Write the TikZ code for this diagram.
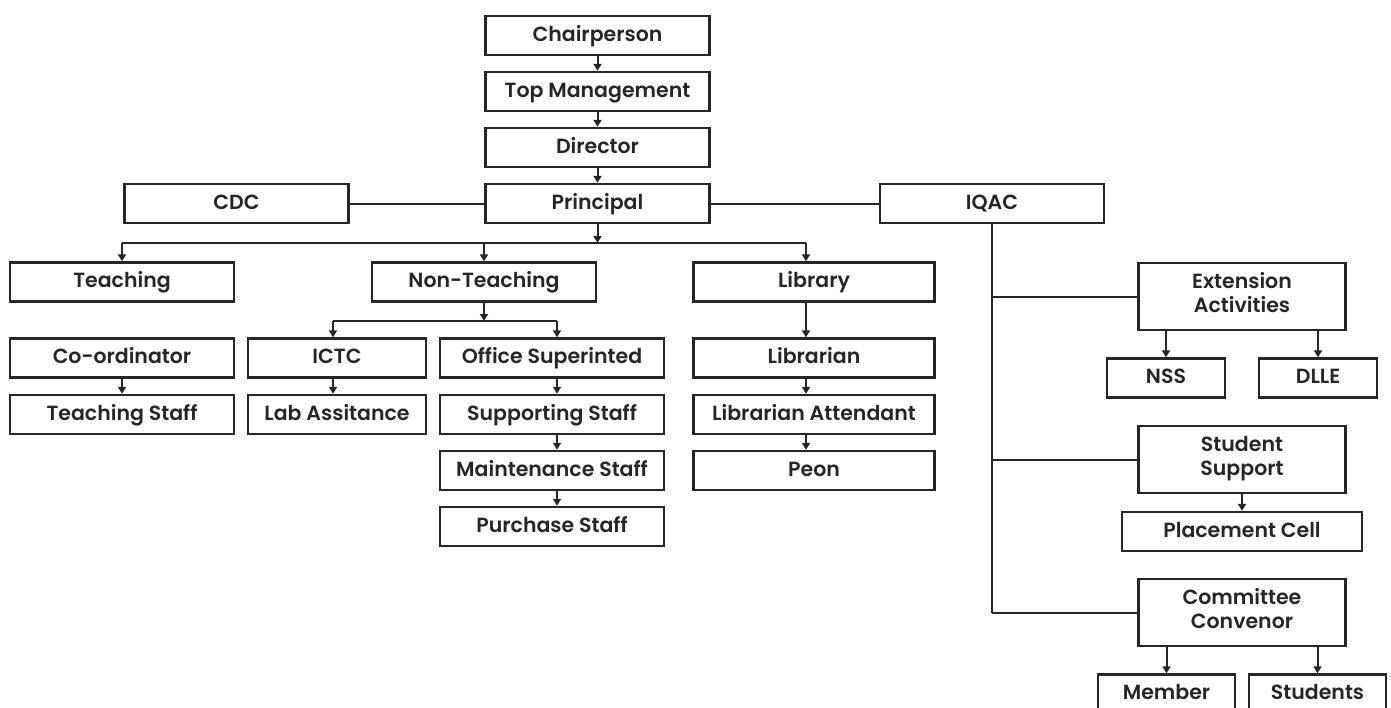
\documentclass[tikz,border=0pt]{standalone}
\usepackage{fontspec}
\setmainfont{Poppins}[UprightFont={* SemiBold}]
\usetikzlibrary{calc, positioning}
\usetikzlibrary{arrows.meta}

\begin{document}
\begin{tikzpicture}[x=1pt, y=-1pt, line join=miter]
\tikzset{
  box/.style={draw=black!85, line width=2.4pt, minimum width=224pt, minimum height=39pt,
    inner sep=0pt, align=center, font=\fontsize{20.5}{24}\selectfont, text=black!85,
    text height=15pt, text depth=4pt},
  tallbox/.style={box, text height=, text depth=8pt, minimum width=207pt, minimum height=67pt},
  link/.style={draw=black!85, line width=2pt},
  arr/.style={link, -{Triangle[length=7pt, width=8pt]}}
}
\useasboundingbox (0,0) rectangle (1391,707);

% Top chain
\node[box] (chair) at (597.5,35.5) {Chairperson};
\node[box] (topm) at (597.5,91.5) {Top Management};
\node[box] (dir) at (597.5,147.5) {Director};
\node[box] (prin) at (597.5,203.5) {Principal};
\node[box] (cdc) at (236.5,203.5) {CDC};
\node[box] (iqac) at (992,203.5) {IQAC};

% Departments
\node[box] (teach) at (122,282) {Teaching};
\node[box] (nonteach) at (484,282) {Non-Teaching};
\node[box, minimum width=241pt] (lib) at (814,282) {Library};

% Teaching column
\node[box] (coord) at (122,358) {Co-ordinator};
\node[box] (tstaff) at (122,414.5) {Teaching Staff};

% Non-teaching columns
\node[box, minimum width=178pt] (ictc) at (337,358) {ICTC};
\node[box, minimum width=178pt] (labas) at (337,414.5) {Lab Assitance};
\node[box] (office) at (552,358) {Office Superinted};
\node[box] (support) at (552,414.5) {Supporting Staff};
\node[box] (maint) at (552,470.5) {Maintenance Staff};
\node[box] (purch) at (552,526.5) {Purchase Staff};

% Library column
\node[box, minimum width=241pt] (libn) at (814,358) {Librarian};
\node[box, minimum width=241pt] (libatt) at (814,414.5) {Librarian Attendant};
\node[box, minimum width=241pt] (peon) at (814,470.5) {Peon};

% IQAC side
\node[tallbox] (ext) at (1242,296.5) {Extension\\Activities};
\node[box, minimum width=118pt] (nss) at (1166,378) {NSS};
\node[box, minimum width=118pt] (dlle) at (1318,378) {DLLE};
\node[tallbox] (ssup) at (1242,459.5) {Student\\Support};
\node[box, minimum width=240pt] (place) at (1242,531.5) {Placement Cell};
\node[tallbox] (comm) at (1242,612.5) {Committee\\Convenor};
\node[box, minimum width=137pt] (member) at (1166.5,694) {Member};
\node[box, minimum width=137pt] (students) at (1317.5,694) {Students};

% Branch points
\coordinate (br) at (597.5,243);
\coordinate (ntbr) at (484,321);

% Top chain arrows
\draw[arr] (chair) -- (topm);
\draw[arr] (topm) -- (dir);
\draw[arr] (dir) -- (prin);
\draw[link] (cdc) -- (prin);
\draw[link] (prin) -- (iqac);

% Principal to departments
\draw[arr] (prin.south) -- (br);
\draw[link] (teach.north |- br) -- ([xshift=-8pt]lib.north |- br);
\draw[arr] (teach.north |- br) -- (teach.north);
\draw[arr] (nonteach.north |- br) -- (nonteach.north);
\draw[arr] ([xshift=-8pt]lib.north |- br) -- ([xshift=-8pt]lib.north);

% Teaching
\draw[arr] (coord) -- (tstaff);

% Non-teaching
\draw[arr] (nonteach.south) -- (ntbr);
\draw[link] ([xshift=-4pt]ictc.north |- ntbr) -- ([xshift=5pt]office.north |- ntbr);
\draw[arr] ([xshift=-4pt]ictc.north |- ntbr) -- ([xshift=-4pt]ictc.north);
\draw[arr] ([xshift=5pt]office.north |- ntbr) -- ([xshift=5pt]office.north);
\draw[arr] ([xshift=-4pt]ictc.south) -- ([xshift=-4pt]labas.north);
\draw[arr] ([xshift=5pt]office.south) -- ([xshift=5pt]support.north);
\draw[arr] ([xshift=5pt]support.south) -- ([xshift=5pt]maint.north);
\draw[arr] ([xshift=5pt]maint.south) -- ([xshift=5pt]purch.north);

% Library
\draw[arr] ([xshift=-8pt]lib.south) -- ([xshift=-8pt]libn.north);
\draw[arr] ([xshift=-8pt]libn.south) -- ([xshift=-8pt]libatt.north);
\draw[arr] ([xshift=-8pt]libatt.south) -- ([xshift=-8pt]peon.north);

% IQAC spine
\draw[link] (iqac.south) -- (iqac.south |- comm.west);
\draw[link] (iqac.south |- ext.west) -- (ext.west);
\draw[link] (iqac.south |- ssup.west) -- (ssup.west);
\draw[link] (iqac.south |- comm.west) -- (comm.west);
\draw[arr] (ext.south -| nss.north) -- (nss.north);
\draw[arr] (ext.south -| dlle.north) -- (dlle.north);
\draw[arr] (ssup.south) -- (place.north);
\draw[arr] (comm.south -| member.north) -- (member.north);
\draw[arr] (comm.south -| students.north) -- (students.north);
\end{tikzpicture}
\end{document}
